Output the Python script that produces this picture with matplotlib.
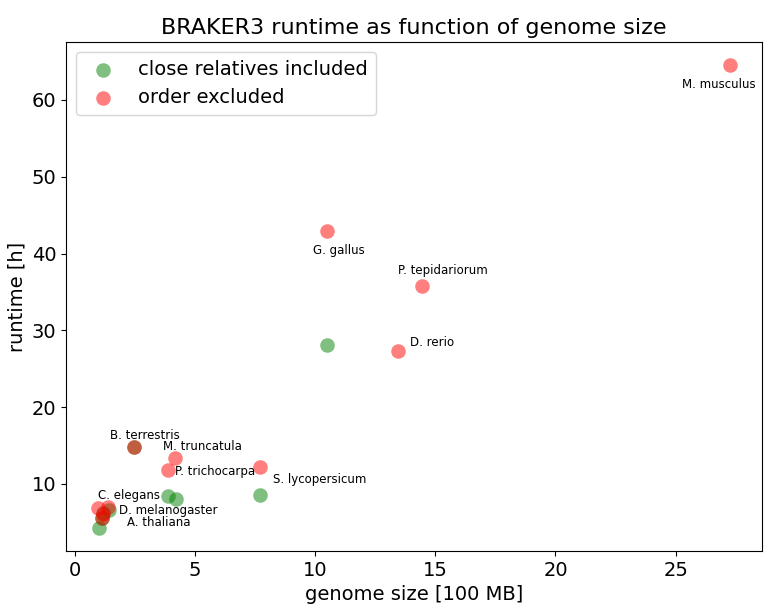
import matplotlib
matplotlib.use("Agg")
import matplotlib.pyplot as plt

# genome size [100 MB] and runtime [h]
close_size = [1.00, 1.45, 1.20, 1.16, 2.48, 3.87, 4.21, 7.73, 10.51]
close_runtime = [4.3, 6.6, 6.2, 5.6, 14.8, 8.4, 8.0, 8.5, 28.1]

order_size = [0.96, 1.39, 1.19, 1.15, 2.48, 4.19, 3.87, 7.73, 10.51, 14.46, 13.47, 27.27]
order_runtime = [6.9, 7.0, 6.1, 5.5, 14.8, 13.4, 11.8, 12.2, 42.9, 35.75, 27.3, 64.5]

species = ["M. musculus", "G. gallus", "P. tepidariorum", "D. rerio", "B. terrestris",
           "M. truncatula", "P. trichocarpa", "S. lycopersicum", "C. elegans",
           "D. melanogaster", "A. thaliana"]
label_x = [26.8, 11.0, 15.33, 14.85, 2.93, 5.32, 5.83, 10.2, 2.25, 3.9, 3.48]
label_y = [62.0, 40.4, 37.75, 28.35, 16.35, 14.88, 11.6, 10.56, 8.44, 6.6, 5.0]

fig = plt.figure(figsize=(7.68, 6.12), dpi=100)
ax = fig.add_axes([0.086, 0.10, 0.906, 0.831])

ax.scatter(close_size, close_runtime, s=110, color="green", alpha=0.5,
           linewidths=0, label="close relatives included")
ax.scatter(order_size, order_runtime, s=110, color="red", alpha=0.5,
           linewidths=0, label="order excluded")

# species names next to the points
for name, x, y in zip(species, label_x, label_y):
    ax.text(x, y, name, fontsize=8.5, ha="center", va="center")

ax.set_title("BRAKER3 runtime as function of genome size", fontsize=16)
ax.set_xlabel("genome size [100 MB]", fontsize=14)
ax.set_ylabel("runtime [h]", fontsize=14)
ax.tick_params(labelsize=14)
ax.legend(fontsize=14, loc="upper left")

fig.savefig("out.png")
